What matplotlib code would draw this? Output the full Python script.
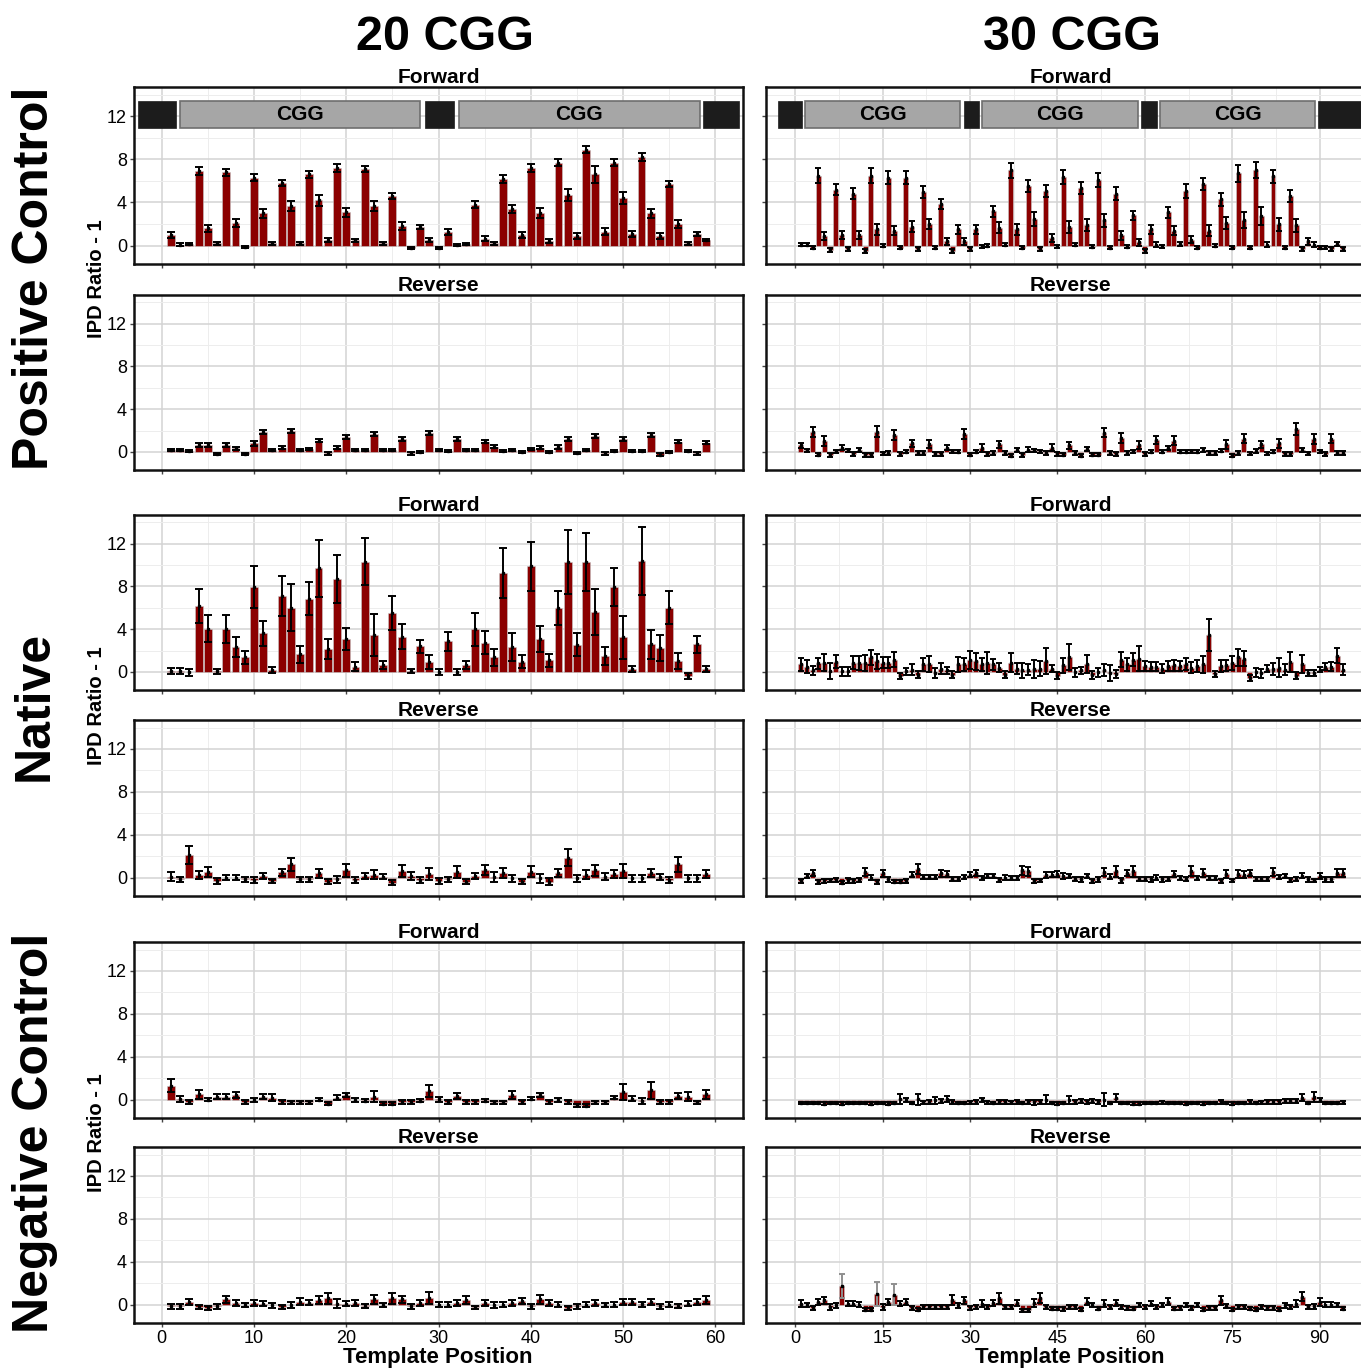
import numpy as np
import matplotlib
matplotlib.use("Agg")
import matplotlib.pyplot as plt
from matplotlib.ticker import MultipleLocator
from matplotlib.patches import Rectangle

plt.rcParams['font.family'] = ['Liberation Sans', 'DejaVu Sans']

# ---- data: IPD ratio - 1 per template position ----
pos20 = list(range(1, 60))
pos30 = list(range(1, 95))

pc20_fwd = [1.0, 0.1, 0.15, 6.9, 1.6, 0.2, 6.8, 2.1, -0.1, 6.3,
            3.0, 0.2, 5.8, 3.7, 0.2, 6.6, 4.2, 0.5, 7.2, 3.1,
            0.5, 7.1, 3.7, 0.2, 4.6, 1.8, -0.2, 1.75, 0.5, -0.2,
            1.25, 0.05, 0.15, 3.8, 0.65, 0.2, 6.2, 3.4, 1.0, 7.2,
            3.0, 0.4, 7.7, 4.7, 0.9, 8.9, 6.6, 1.3, 7.7, 4.4,
            1.1, 8.2, 3.0, 0.9, 5.7, 2.0, 0.2, 1.1, 0.5]
pc20_fwd_err = [0.25, 0.1, 0.1, 0.35, 0.3, 0.15, 0.3, 0.35, 0.1, 0.3,
                0.4, 0.15, 0.3, 0.45, 0.15, 0.3, 0.5, 0.2, 0.35, 0.4,
                0.15, 0.3, 0.45, 0.15, 0.3, 0.35, 0.1, 0.2, 0.2, 0.1,
                0.25, 0.1, 0.1, 0.3, 0.2, 0.15, 0.35, 0.4, 0.25, 0.35,
                0.45, 0.2, 0.35, 0.55, 0.25, 0.35, 0.75, 0.3, 0.3, 0.55,
                0.3, 0.35, 0.4, 0.3, 0.3, 0.35, 0.15, 0.2, 0.1]

pc20_rev = [0.15, 0.2, 0.1, 0.65, 0.65, -0.2, 0.65, 0.35, -0.2, 0.8,
            1.85, 0.2, 0.4, 1.95, 0.2, 0.3, 1.05, -0.15, 0.4, 1.4,
            0.15, 0.15, 1.65, 0.2, 0.15, 1.2, -0.15, 0.0, 1.75, 0.2,
            0.1, 1.2, 0.2, 0.15, 0.95, 0.5, 0.1, 0.2, 0.0, 0.25,
            0.4, 0.0, 0.45, 1.2, -0.1, 0.15, 1.5, -0.15, 0.05, 1.2,
            0.1, 0.05, 1.6, -0.25, 0.0, 0.95, 0.05, -0.15, 0.85]
pc20_rev_err = [0.1, 0.1, 0.1, 0.2, 0.2, 0.1, 0.2, 0.15, 0.1, 0.25,
                0.2, 0.1, 0.15, 0.2, 0.1, 0.1, 0.15, 0.1, 0.15, 0.2,
                0.1, 0.1, 0.2, 0.1, 0.1, 0.15, 0.1, 0.1, 0.2, 0.1,
                0.1, 0.15, 0.1, 0.1, 0.15, 0.15, 0.1, 0.1, 0.1, 0.1,
                0.15, 0.1, 0.15, 0.2, 0.1, 0.1, 0.2, 0.1, 0.1, 0.15,
                0.1, 0.1, 0.2, 0.1, 0.1, 0.15, 0.1, 0.1, 0.15]

pc30_fwd = [0.1, 0.1, -0.2, 6.5, 0.9, -0.4, 5.2, 1.0, -0.3, 4.8,
            1.0, -0.5, 6.5, 1.5, 0.0, 6.3, 1.4, -0.2, 6.3, 1.75,
            -0.3, 5.0, 2.0, -0.2, 3.85, 0.4, -0.5, 1.5, 0.4, -0.3,
            1.5, -0.05, 0.0, 3.2, 1.65, 0.1, 7.0, 1.5, -0.2, 5.5,
            2.45, -0.3, 5.1, 0.7, -0.05, 6.35, 1.7, 0.1, 5.35, 1.9,
            -0.1, 6.1, 2.35, -0.2, 4.8, 0.95, -0.1, 2.8, 0.3, -0.5,
            1.5, 0.1, -0.05, 3.1, 1.4, 0.15, 5.1, 0.55, -0.2, 5.7,
            1.4, 0.0, 4.3, 2.1, -0.2, 6.7, 2.35, -0.2, 7.0, 2.75,
            0.1, 6.45, 2.0, -0.2, 4.6, 1.9, -0.3, 0.4, 0.1, -0.2,
            -0.15, -0.3, 0.15, -0.3]
pc30_fwd_err = [0.15, 0.15, 0.15, 0.7, 0.4, 0.15, 0.5, 0.4, 0.15, 0.5,
                0.4, 0.15, 0.7, 0.5, 0.15, 0.6, 0.45, 0.15, 0.6, 0.5,
                0.15, 0.55, 0.5, 0.15, 0.5, 0.3, 0.15, 0.4, 0.3, 0.15,
                0.4, 0.15, 0.15, 0.5, 0.5, 0.15, 0.7, 0.5, 0.15, 0.55,
                0.65, 0.15, 0.55, 0.35, 0.15, 0.65, 0.55, 0.15, 0.55, 0.55,
                0.15, 0.65, 0.6, 0.15, 0.6, 0.4, 0.15, 0.45, 0.3, 0.15,
                0.4, 0.2, 0.15, 0.5, 0.45, 0.2, 0.65, 0.35, 0.15, 0.55,
                0.55, 0.15, 0.6, 0.6, 0.15, 0.8, 0.75, 0.15, 0.75, 0.8,
                0.2, 0.6, 0.6, 0.15, 0.6, 0.6, 0.15, 0.3, 0.2, 0.15,
                0.15, 0.15, 0.2, 0.15]

pc30_rev = [0.6, 0.15, 1.85, -0.25, 1.0, -0.3, 0.05, 0.4, 0.15, -0.2,
            0.2, -0.3, -0.3, 1.9, -0.15, -0.1, 1.6, -0.2, 0.0, 0.8,
            -0.1, -0.1, 0.75, -0.2, -0.2, 0.4, 0.05, 0.0, 1.7, -0.25,
            0.0, 0.35, -0.2, -0.1, 0.7, -0.1, -0.35, 0.15, -0.3, 0.2,
            0.15, 0.05, -0.1, 0.4, -0.2, -0.25, 0.6, -0.1, -0.35, 0.3,
            -0.25, -0.25, 1.8, -0.1, -0.2, 1.3, -0.1, 0.05, 0.65, -0.2,
            0.0, 1.1, 0.0, 0.35, 1.05, 0.0, 0.0, 0.05, 0.0, 0.15,
            -0.1, -0.1, 0.1, 0.7, -0.35, -0.1, 1.25, -0.15, 0.1, 0.7,
            -0.15, 0.0, 0.8, -0.2, -0.2, 2.15, 0.15, -0.15, 1.2, 0.05,
            -0.2, 1.25, -0.1, -0.1]
pc30_rev_err = [0.25, 0.15, 0.45, 0.15, 0.45, 0.15, 0.15, 0.2, 0.15, 0.15,
                0.2, 0.15, 0.15, 0.5, 0.15, 0.15, 0.45, 0.15, 0.15, 0.35,
                0.15, 0.15, 0.4, 0.15, 0.15, 0.25, 0.15, 0.15, 0.45, 0.15,
                0.15, 0.35, 0.15, 0.15, 0.3, 0.15, 0.15, 0.2, 0.15, 0.25,
                0.15, 0.15, 0.15, 0.3, 0.15, 0.15, 0.3, 0.15, 0.15, 0.2,
                0.15, 0.15, 0.45, 0.15, 0.15, 0.5, 0.15, 0.15, 0.35, 0.15,
                0.15, 0.4, 0.15, 0.2, 0.45, 0.15, 0.15, 0.15, 0.15, 0.2,
                0.15, 0.15, 0.15, 0.4, 0.15, 0.15, 0.45, 0.15, 0.2, 0.35,
                0.15, 0.15, 0.4, 0.15, 0.15, 0.6, 0.2, 0.15, 0.45, 0.15,
                0.15, 0.45, 0.15, 0.15]

nat20_fwd = [0.1, 0.1, -0.05, 6.2, 4.05, 0.05, 4.0, 2.3, 1.35, 7.95,
             3.6, 0.15, 7.1, 6.0, 1.65, 6.85, 9.7, 2.15, 8.7, 3.1,
             0.5, 10.3, 3.45, 0.65, 5.5, 3.3, 0.05, 2.4, 0.9, 0.0,
             2.85, 0.0, 0.65, 4.0, 2.75, 1.35, 9.25, 2.3, 0.95, 9.9,
             3.1, 1.1, 6.0, 10.3, 2.55, 10.3, 5.6, 1.45, 7.95, 3.25,
             0.25, 10.4, 2.6, 2.25, 6.0, 1.0, -0.4, 2.6, 0.25]
nat20_fwd_err = [0.3, 0.3, 0.3, 1.6, 1.25, 0.25, 1.3, 0.95, 0.65, 2.0,
                 1.2, 0.3, 1.9, 2.2, 0.8, 1.55, 2.7, 0.9, 2.25, 1.05,
                 0.45, 2.2, 2.0, 0.4, 1.6, 1.15, 0.2, 0.6, 0.65, 0.3,
                 0.85, 0.3, 0.4, 1.55, 1.1, 0.8, 2.35, 1.3, 0.6, 2.3,
                 1.2, 0.6, 1.6, 3.0, 1.1, 2.7, 2.15, 0.85, 1.8, 2.0,
                 0.3, 3.2, 1.35, 1.25, 1.55, 0.75, 0.25, 0.8, 0.3]

nat20_rev = [0.1, -0.15, 2.15, 0.25, 0.55, -0.3, 0.0, 0.0, -0.15, -0.2,
             0.15, -0.3, 0.5, 1.25, -0.15, -0.15, 0.4, -0.35, -0.15, 0.7,
             -0.2, 0.15, 0.3, 0.1, -0.45, 0.65, 0.15, -0.2, 0.35, -0.3,
             -0.15, 0.55, -0.35, 0.15, 0.7, 0.1, 0.45, -0.05, -0.35, 0.55,
             -0.05, -0.35, 0.45, 1.85, -0.05, 0.3, 0.7, 0.1, 0.35, 0.65,
             -0.05, -0.05, 0.45, 0.05, -0.2, 1.25, -0.05, -0.05, 0.35]
nat20_rev_err = [0.4, 0.2, 0.85, 0.4, 0.45, 0.25, 0.25, 0.25, 0.25, 0.25,
                 0.3, 0.2, 0.35, 0.6, 0.25, 0.25, 0.4, 0.25, 0.3, 0.6,
                 0.25, 0.3, 0.45, 0.25, 0.25, 0.55, 0.35, 0.25, 0.55, 0.25,
                 0.25, 0.55, 0.25, 0.3, 0.45, 0.45, 0.45, 0.3, 0.25, 0.5,
                 0.4, 0.3, 0.4, 0.8, 0.3, 0.45, 0.5, 0.3, 0.4, 0.65,
                 0.3, 0.3, 0.4, 0.3, 0.25, 0.7, 0.3, 0.3, 0.4]

nat30_fwd = [0.7, 0.5, 0.15, 0.8, 0.85, 0.05, 0.95, 0.05, 0.05, 0.85,
             0.85, 0.8, 1.35, 1.0, 0.85, 0.85, 1.15, -0.4, 0.05, 0.2,
             -0.25, 0.7, 0.75, -0.1, 0.3, 0.15, -0.25, 0.7, 0.7, 1.15,
             1.0, 0.7, 0.85, 0.7, 0.4, -0.25, 0.85, 0.3, 0.15, 0.2,
             0.3, 0.3, 1.0, 0.3, -0.35, 0.6, 1.4, -0.05, 0.15, 0.75,
             -0.3, -0.05, 0.15, -0.1, -0.2, 1.15, 0.7, 1.15, 1.25, 0.55,
             0.5, 0.5, 0.3, 0.55, 0.6, 0.55, 0.75, 0.4, 0.55, 0.7,
             3.45, -0.2, 0.55, 0.6, 0.85, 1.35, 1.25, -0.55, -0.05, -0.15,
             0.3, 0.3, 0.4, 0.2, 0.9, -0.35, 0.7, -0.1, -0.1, 0.2,
             0.5, 0.5, 1.5, 0.2]
nat30_fwd_err = [0.63, 0.6, 0.4, 0.5, 0.8, 0.75, 0.63, 0.4, 0.4, 0.6,
                 0.63, 0.75, 0.7, 0.7, 0.5, 0.5, 0.7, 0.3, 0.3, 0.5,
                 0.35, 0.63, 0.75, 0.45, 0.5, 0.35, 0.3, 0.7, 0.63, 0.85,
                 0.8, 0.6, 1.05, 0.5, 0.4, 0.3, 0.9, 0.5, 0.7, 0.5,
                 0.85, 0.7, 1.2, 0.3, 0.3, 0.7, 1.2, 0.4, 0.35, 0.85,
                 0.35, 0.4, 0.55, 0.75, 0.35, 0.7, 0.63, 0.63, 1.15, 0.45,
                 0.45, 0.45, 0.45, 0.5, 0.5, 0.5, 0.55, 0.5, 0.55, 0.8,
                 1.5, 0.3, 0.55, 0.55, 0.63, 0.8, 0.7, 0.3, 0.4, 0.4,
                 0.3, 0.55, 0.9, 0.5, 0.95, 0.3, 0.85, 0.3, 0.3, 0.25,
                 0.3, 0.4, 0.7, 0.5]

nat30_rev = [-0.3, 0.15, 0.45, -0.4, -0.3, -0.25, -0.2, -0.45, -0.25, -0.3,
             -0.2, 0.55, 0.0, -0.4, 0.4, -0.15, -0.35, -0.35, -0.3, 0.3,
             0.8, 0.05, 0.05, 0.1, 0.4, 0.35, -0.1, -0.1, 0.05, 0.3,
             0.45, 0.0, 0.15, 0.15, -0.2, 0.0, 0.0, 0.0, 0.7, 0.6,
             -0.3, -0.25, 0.25, 0.3, 0.35, 0.15, 0.15, -0.1, -0.15, 0.15,
             -0.3, -0.15, 0.55, 0.1, 0.6, -0.25, 0.45, 0.6, -0.1, -0.1,
             -0.15, 0.0, -0.15, -0.1, 0.35, 0.0, -0.1, 0.6, 0.0, 0.45,
             0.0, 0.0, -0.3, 0.35, -0.25, 0.35, 0.3, 0.45, -0.1, -0.1,
             -0.1, 0.55, 0.05, 0.15, -0.2, -0.1, 0.2, -0.15, -0.25, 0.15,
             -0.15, -0.15, 0.45, 0.45]
nat30_rev_err = [0.2, 0.2, 0.3, 0.15, 0.15, 0.15, 0.2, 0.15, 0.2, 0.15,
                 0.2, 0.35, 0.25, 0.15, 0.3, 0.2, 0.15, 0.15, 0.15, 0.25,
                 0.45, 0.2, 0.2, 0.2, 0.3, 0.25, 0.2, 0.2, 0.2, 0.25,
                 0.3, 0.2, 0.2, 0.2, 0.15, 0.25, 0.2, 0.2, 0.4, 0.4,
                 0.15, 0.15, 0.25, 0.25, 0.25, 0.25, 0.2, 0.2, 0.2, 0.2,
                 0.15, 0.2, 0.4, 0.25, 0.5, 0.2, 0.3, 0.5, 0.2, 0.2,
                 0.2, 0.25, 0.2, 0.2, 0.3, 0.2, 0.2, 0.45, 0.2, 0.35,
                 0.2, 0.2, 0.15, 0.35, 0.15, 0.4, 0.3, 0.3, 0.2, 0.2,
                 0.2, 0.35, 0.2, 0.2, 0.15, 0.2, 0.25, 0.2, 0.15, 0.25,
                 0.2, 0.2, 0.35, 0.4]

neg20_fwd = [1.3, 0.05, -0.2, 0.5, 0.0, 0.3, 0.3, 0.45, -0.2, 0.0,
             0.3, 0.2, -0.2, -0.25, -0.25, -0.25, 0.0, -0.35, 0.2, 0.45,
             0.0, -0.1, 0.3, -0.35, -0.35, -0.2, -0.2, -0.1, 0.8, 0.05,
             -0.2, 0.35, -0.2, -0.2, -0.1, -0.25, -0.25, 0.45, -0.2, 0.1,
             0.45, -0.2, 0.0, -0.2, -0.5, -0.55, -0.25, -0.25, 0.2, 0.7,
             0.1, -0.1, 0.9, -0.2, -0.2, 0.35, 0.3, -0.25, 0.5]
neg20_fwd_err = [0.6, 0.3, 0.15, 0.4, 0.15, 0.2, 0.25, 0.25, 0.15, 0.2,
                 0.25, 0.3, 0.15, 0.15, 0.15, 0.15, 0.15, 0.15, 0.25, 0.2,
                 0.2, 0.15, 0.5, 0.15, 0.15, 0.15, 0.15, 0.15, 0.55, 0.25,
                 0.15, 0.25, 0.15, 0.15, 0.15, 0.15, 0.15, 0.35, 0.2, 0.15,
                 0.2, 0.15, 0.2, 0.2, 0.15, 0.15, 0.15, 0.15, 0.15, 0.75,
                 0.25, 0.3, 0.8, 0.2, 0.15, 0.3, 0.4, 0.15, 0.45]

neg20_rev = [-0.15, -0.15, 0.25, -0.2, -0.3, -0.15, 0.5, 0.15, -0.05, 0.15,
             0.1, -0.05, -0.2, 0.0, 0.3, 0.2, 0.45, 0.6, 0.1, 0.1,
             0.15, -0.1, 0.5, -0.05, 0.6, 0.5, -0.15, 0.15, 0.6, 0.0,
             0.0, 0.15, 0.45, -0.25, 0.15, 0.0, 0.0, 0.15, 0.35, -0.15,
             0.5, 0.15, 0.0, -0.3, -0.15, 0.0, 0.15, 0.0, 0.0, 0.25,
             0.25, 0.05, 0.25, -0.15, 0.0, -0.1, 0.1, 0.25, 0.45]
neg20_rev_err = [0.2, 0.2, 0.3, 0.15, 0.15, 0.2, 0.35, 0.25, 0.2, 0.3,
                 0.25, 0.25, 0.2, 0.3, 0.3, 0.25, 0.35, 0.5, 0.4, 0.25,
                 0.25, 0.2, 0.45, 0.2, 0.5, 0.35, 0.2, 0.25, 0.55, 0.25,
                 0.25, 0.3, 0.35, 0.15, 0.3, 0.3, 0.25, 0.25, 0.3, 0.2,
                 0.45, 0.3, 0.25, 0.15, 0.2, 0.25, 0.3, 0.2, 0.25, 0.3,
                 0.3, 0.25, 0.3, 0.2, 0.25, 0.2, 0.25, 0.3, 0.4]

neg30_fwd = [-0.3, -0.3, -0.3, -0.3, -0.35, -0.3, -0.3, -0.35, -0.3, -0.3,
             -0.3, -0.3, -0.35, -0.3, -0.3, -0.35, -0.3, 0.1, -0.05, -0.3,
             0.05, -0.25, -0.2, -0.05, -0.1, 0.05, -0.2, -0.3, -0.3, -0.25,
             -0.2, -0.05, -0.25, -0.3, -0.2, -0.2, -0.25, -0.2, -0.3, -0.2,
             -0.25, -0.2, 0.0, -0.3, -0.35, -0.3, 0.0, -0.2, -0.1, -0.2,
             -0.1, -0.2, 0.0, -0.3, 0.15, -0.3, -0.3, -0.35, -0.35, -0.3,
             -0.3, -0.3, -0.25, -0.3, -0.3, -0.3, -0.35, -0.3, -0.3, -0.35,
             -0.3, -0.3, -0.2, -0.3, -0.35, -0.3, -0.3, -0.2, -0.3, -0.25,
             -0.2, -0.2, -0.2, -0.1, -0.1, -0.1, 0.2, -0.3, 0.25, -0.05,
             -0.3, -0.3, -0.3, -0.25]
neg30_fwd_err = [0.1, 0.1, 0.1, 0.1, 0.1, 0.12, 0.1, 0.1, 0.12, 0.1,
                 0.1, 0.12, 0.1, 0.1, 0.1, 0.12, 0.1, 0.45, 0.2, 0.1,
                 0.5, 0.15, 0.15, 0.3, 0.2, 0.3, 0.15, 0.1, 0.1, 0.15,
                 0.2, 0.2, 0.15, 0.12, 0.2, 0.2, 0.15, 0.2, 0.12, 0.2,
                 0.2, 0.15, 0.4, 0.12, 0.1, 0.12, 0.35, 0.2, 0.2, 0.2,
                 0.2, 0.2, 0.6, 0.12, 0.4, 0.1, 0.1, 0.1, 0.1, 0.12,
                 0.1, 0.1, 0.15, 0.1, 0.1, 0.12, 0.1, 0.1, 0.1, 0.1,
                 0.12, 0.1, 0.15, 0.1, 0.1, 0.12, 0.1, 0.15, 0.1, 0.15,
                 0.2, 0.2, 0.2, 0.2, 0.2, 0.2, 0.35, 0.12, 0.45, 0.2,
                 0.12, 0.1, 0.12, 0.12]

neg30_rev = [0.1, -0.05, -0.3, 0.25, 0.4, -0.2, -0.05, 1.75, 0.1, 0.1,
             0.0, -0.45, -0.45, 1.0, -0.2, 0.25, 0.95, 0.1, 0.25, -0.3,
             -0.45, -0.2, -0.2, -0.2, -0.2, -0.2, 0.45, -0.05, 0.4, -0.3,
             -0.2, 0.1, -0.2, 0.15, 0.6, -0.2, -0.2, 0.15, -0.5, -0.5,
             0.15, 0.6, -0.2, -0.35, -0.35, -0.4, -0.2, -0.2, -0.45, 0.3,
             -0.05, -0.35, 0.1, -0.2, 0.15, -0.2, -0.3, -0.35, -0.05, -0.2,
             0.1, -0.2, -0.05, 0.3, -0.35, -0.3, -0.05, -0.3, -0.05, -0.45,
             -0.3, -0.3, 0.4, -0.1, -0.45, -0.2, -0.2, -0.35, -0.45, -0.2,
             -0.3, -0.3, -0.45, -0.05, -0.2, 0.1, 0.75, -0.2, -0.15, 0.25,
             0.0, 0.0, -0.05, -0.35]
neg30_rev_err = [0.35, 0.2, 0.15, 0.3, 0.35, 0.25, 0.25, 1.15, 0.25, 0.25,
                 0.25, 0.15, 0.15, 1.15, 0.25, 0.3, 1.0, 0.25, 0.3, 0.15,
                 0.15, 0.15, 0.15, 0.15, 0.15, 0.15, 0.45, 0.25, 0.3, 0.15,
                 0.2, 0.3, 0.2, 0.3, 0.5, 0.2, 0.2, 0.3, 0.15, 0.15,
                 0.35, 0.45, 0.2, 0.15, 0.15, 0.15, 0.2, 0.2, 0.15, 0.3,
                 0.2, 0.15, 0.3, 0.2, 0.25, 0.2, 0.15, 0.15, 0.2, 0.2,
                 0.25, 0.2, 0.2, 0.3, 0.15, 0.15, 0.2, 0.15, 0.2, 0.15,
                 0.15, 0.15, 0.4, 0.2, 0.15, 0.2, 0.2, 0.15, 0.15, 0.2,
                 0.15, 0.15, 0.15, 0.25, 0.2, 0.3, 0.4, 0.2, 0.2, 0.4,
                 0.25, 0.25, 0.2, 0.15]
neg30_rev_grey = [8, 14, 17]

# CGG repeat annotation (start, end, kind) along the template
track20 = [(-2.6, 1.5, 'flank'), (1.96, 28.0, 'CGG'), (28.5, 31.7, 'flank'),
           (32.2, 58.3, 'CGG'), (58.7, 62.6, 'flank')]
track30 = [(-2.9, 1.2, 'flank'), (1.7, 28.3, 'CGG'), (28.9, 31.5, 'flank'),
           (32.1, 58.8, 'CGG'), (59.4, 62.1, 'flank'), (62.6, 89.2, 'CGG'),
           (89.7, 100.0, 'flank')]

row_names = ["Positive Control", "Native", "Negative Control"]
strand_names = ["Forward", "Reverse"]

# ---- layout (pixels of the 1361x1372 canvas) ----
W, H = 1361, 1372
fig = plt.figure(figsize=(W / 100, H / 100), dpi=100)

col_x = [(134, 743), (766, 1375)]
row_y = [(87, 264), (295, 470), (515, 690), (720, 896), (942, 1118), (1147, 1323)]

panels = [
    [(pc20_fwd, pc20_fwd_err, []), (pc30_fwd, pc30_fwd_err, [])],
    [(pc20_rev, pc20_rev_err, []), (pc30_rev, pc30_rev_err, [])],
    [(nat20_fwd, nat20_fwd_err, []), (nat30_fwd, nat30_fwd_err, [])],
    [(nat20_rev, nat20_rev_err, []), (nat30_rev, nat30_rev_err, [])],
    [(neg20_fwd, neg20_fwd_err, []), (neg30_fwd, neg30_fwd_err, [])],
    [(neg20_rev, neg20_rev_err, []), (neg30_rev, neg30_rev_err, neg30_rev_grey)],
]

BAR = '#8b0000'

for r, (y0, y1) in enumerate(row_y):
    for c, (x0, x1) in enumerate(col_x):
        ax = fig.add_axes([x0 / W, 1 - y1 / H, (x1 - x0) / W, (y1 - y0) / H])
        vals, errs, grey = panels[r][c]
        pos = pos20 if c == 0 else pos30
        cap = 2.8 if c == 0 else 2.0

        ax.bar(pos, vals, width=0.85, color=BAR, edgecolor='#c9c9c9',
               linewidth=0.4, zorder=2)
        ecols = ['#8f8f8f' if p in grey else 'black' for p in pos]
        for p, v, e, ec in zip(pos, vals, errs, ecols):
            ax.errorbar(p, v, yerr=e, fmt='s', ms=1.8, color='black', mec='black',
                        ecolor=ec, elinewidth=1.4, capsize=cap, capthick=1.4, zorder=3)

        if r == 0:
            for s, e, kind in (track20 if c == 0 else track30):
                if kind == 'CGG':
                    ax.add_patch(Rectangle((s, 10.9), e - s, 2.5, facecolor='#a6a6a6',
                                           edgecolor='#6e6e6e', lw=1.2, zorder=4))
                    ax.text((s + e) / 2, 12.15, 'CGG', ha='center', va='center',
                            fontsize=15, fontweight='bold', zorder=5)
                else:
                    ax.add_patch(Rectangle((s, 10.9), e - s, 2.5, facecolor='#1c1c1c',
                                           edgecolor='#1c1c1c', lw=0.5, zorder=4))

        if c == 0:
            ax.set_xlim(-3, 63)
            ax.xaxis.set_major_locator(MultipleLocator(10))
            ax.xaxis.set_minor_locator(MultipleLocator(5))
        else:
            ax.set_xlim(-5, 99.5)
            ax.xaxis.set_major_locator(MultipleLocator(15))
            ax.xaxis.set_minor_locator(MultipleLocator(7.5))
        ax.set_ylim(-1.7, 14.7)
        ax.yaxis.set_major_locator(MultipleLocator(4))
        ax.yaxis.set_minor_locator(MultipleLocator(2))

        ax.set_axisbelow(True)
        ax.grid(which='major', color='#d3d3d3', lw=1.1)
        ax.grid(which='minor', color='#ededed', lw=0.7)
        for sp in ax.spines.values():
            sp.set_linewidth(1.8)
            sp.set_color('#111111')
        ax.tick_params(which='major', length=3, width=1, color='#444444',
                       labelsize=13, pad=2)
        ax.tick_params(which='minor', length=0)
        if r < 5:
            ax.tick_params(labelbottom=False)
        if c == 1:
            ax.tick_params(labelleft=False)

        ax.set_title(strand_names[r % 2], fontsize=15, fontweight='bold', pad=1.5)

# column headers, row labels, axis labels
fig.text(445 / W, 1 - 37 / H, "20 CGG", ha='center', va='center',
         fontsize=35, fontweight='bold')
fig.text(1072 / W, 1 - 37 / H, "30 CGG", ha='center', va='center',
         fontsize=35, fontweight='bold')

for i, name in enumerate(row_names):
    top = row_y[2 * i][0]
    bot = row_y[2 * i + 1][1]
    yc = 1 - (top + bot) / 2 / H
    fig.text(35 / W, yc, name, rotation=90, ha='center', va='center',
             fontsize=36, fontweight='bold')
    fig.text(96 / W, yc, "IPD Ratio - 1", rotation=90, ha='center', va='center',
             fontsize=14.5, fontweight='bold')

fig.text(438 / W, 1 - 1357 / H, "Template Position", ha='center', va='center',
         fontsize=16, fontweight='bold')
fig.text(1070 / W, 1 - 1357 / H, "Template Position", ha='center', va='center',
         fontsize=16, fontweight='bold')

fig.savefig("out.png", dpi=100)
